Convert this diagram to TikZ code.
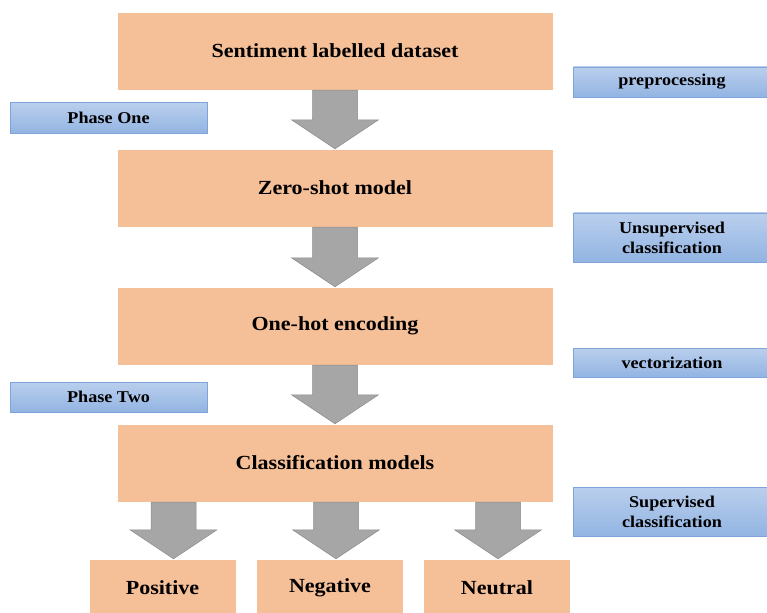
\documentclass[tikz,border=0pt]{standalone}
\usepackage{fontspec}
\setmainfont{Liberation Serif}[FakeStretch=1.1]

\definecolor{peach}{RGB}{245,191,152}
\definecolor{bluetop}{RGB}{186,207,237}
\definecolor{bluebot}{RGB}{146,180,226}
\definecolor{blueline}{RGB}{126,164,218}
\definecolor{arrowgray}{RGB}{166,166,166}
\definecolor{arrowline}{RGB}{140,140,140}

\tikzset{
  stagebox/.style={fill=peach, draw=white, inner sep=0pt,
    minimum width=436pt, minimum height=78pt,
    font=\fontsize{20}{24}\selectfont\bfseries},
  classbox/.style={stagebox, minimum width=147pt, minimum height=58pt},
  tagbox/.style={top color=bluetop, bottom color=bluebot, draw=blueline,
    inner sep=0pt, align=center, minimum width=197pt,
    font=\fontsize{16.5}{20}\selectfont\bfseries},
  grayarrow/.style={fill=arrowgray, draw=arrowline, line width=0.5pt},
}

% block arrow from the edge #1 down to the tip #2
\newcommand{\blockarrow}[2]{%
  \coordinate (st) at (#2 |- #1);
  \filldraw[grayarrow] ([xshift=-22.5pt]st) -- ([xshift=22.5pt]st)
    -- ([xshift=22.5pt,yshift=29pt]#2) -- ([xshift=43.5pt,yshift=29pt]#2)
    -- (#2)
    -- ([xshift=-43.5pt,yshift=29pt]#2) -- ([xshift=-22.5pt,yshift=29pt]#2)
    -- cycle;
}

\begin{document}
\begin{tikzpicture}[x=1pt, y=-1pt]
            \useasboundingbox (0,0) rectangle (767,612);

            \def\xm{335};
            \def\xl{108.5};
            \def\xr{672};

            \def\ya{51};
            \def\yb{188};
            \def\yc{326};
            \def\yd{463};
            \def\ye{588};

            % main stages
            \node[stagebox] (sent) at (\xm, \ya) {Sentiment labelled dataset};
            \node[stagebox] (zero) at (\xm, \yb) {Zero-shot model};
            \node[stagebox] (onehot) at (\xm, \yc) {One-hot encoding};
            \node[stagebox] (models) at (\xm, \yd) {Classification models};

            % outcomes
            \node[classbox] (pos) at (162.5, \ye) {Positive};
            \node[classbox] (neg) at (330, \ye) {Negative};
            \node[classbox] (neu) at (497, \ye) {Neutral};

            % side tags
            \node[tagbox, minimum height=30pt] (prep) at (\xr, 82) {preprocessing};
            \node[tagbox, minimum height=31pt] (one) at (\xl, 118) {Phase One};
            \node[tagbox, minimum height=49pt] (unsup) at (\xr, 237.5) {Unsupervised\\classification};
            \node[tagbox, minimum height=29pt] (vect) at (\xr, 362.5) {vectorization};
            \node[tagbox, minimum height=30pt] (two) at (\xl, 397) {Phase Two};
            \node[tagbox, minimum height=49pt] (sup) at (\xr, 511.5) {Supervised\\classification};

            \blockarrow{sent.south}{zero.north};
            \blockarrow{zero.south}{onehot.north};
            \blockarrow{onehot.south}{models.north};

            \coordinate (tipa) at ([xshift=11pt]pos.north);
            \coordinate (tipb) at ([xshift=6pt]neg.north);
            \coordinate (tipc) at ([xshift=1pt]neu.north);
            \blockarrow{models.south}{tipa};
            \blockarrow{models.south}{tipb};
            \blockarrow{models.south}{tipc};

\end{tikzpicture}
\end{document}
